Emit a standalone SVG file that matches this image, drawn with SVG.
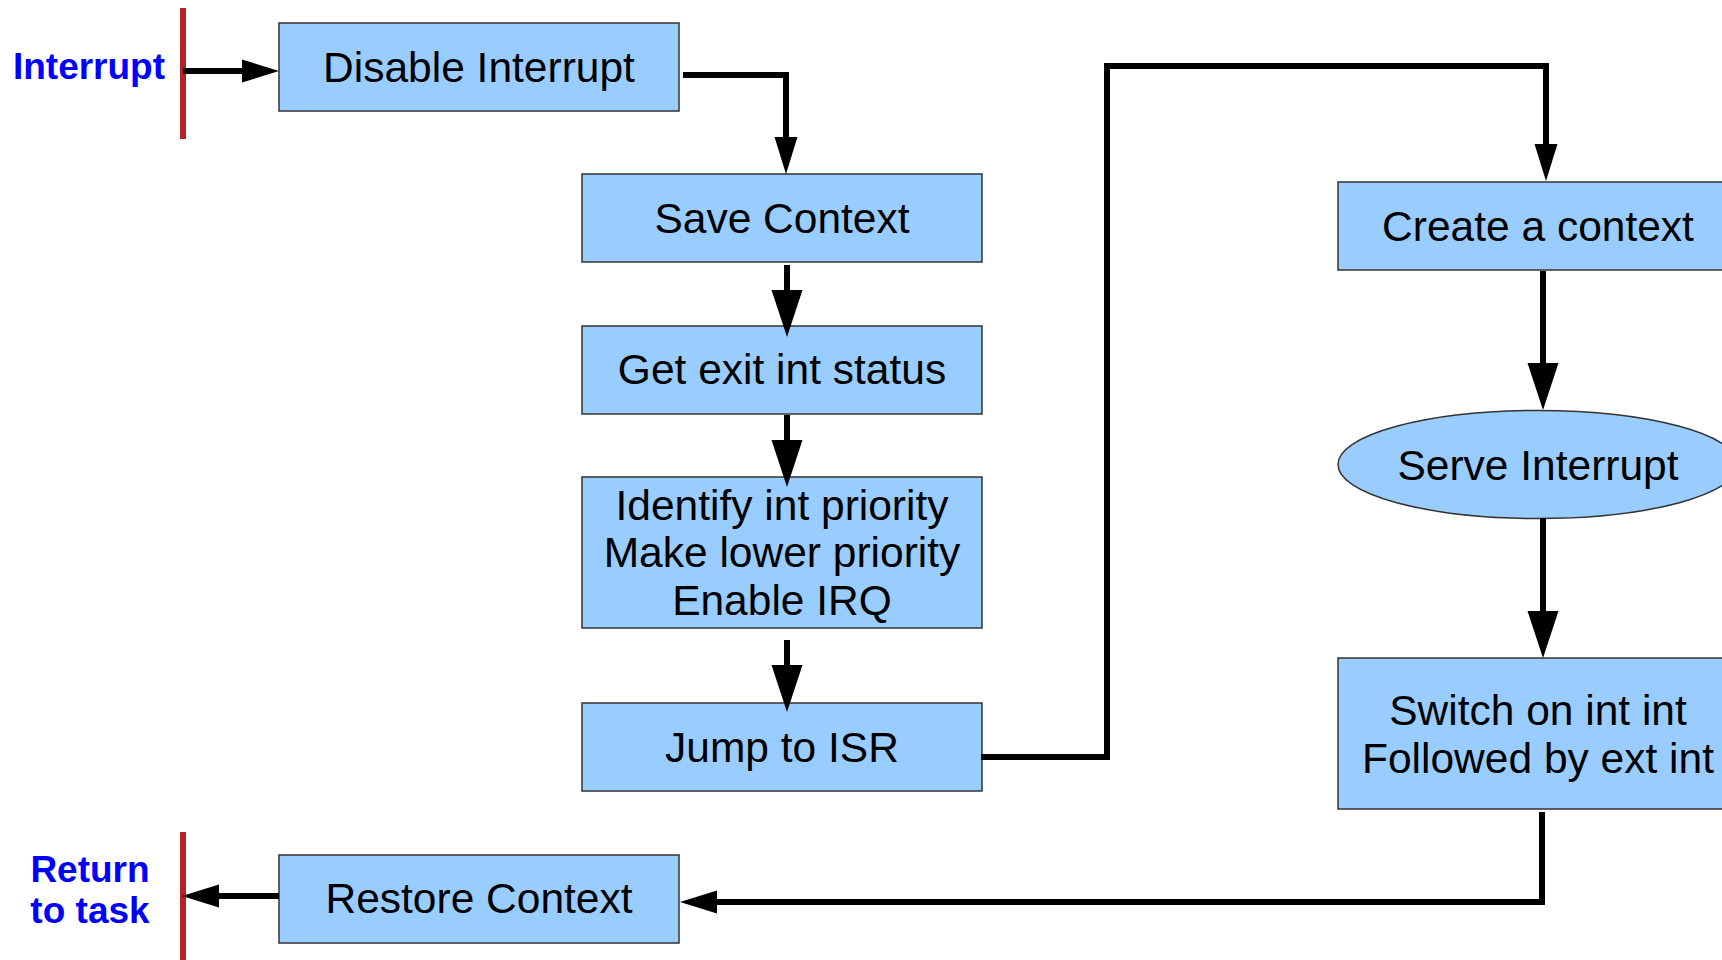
<svg xmlns="http://www.w3.org/2000/svg" width="1722" height="960" viewBox="0 0 1722 960">
<defs>
<style>
.box{fill:#99CCFF;stroke:#333333;stroke-width:1.5}
.t{font-family:"Liberation Sans",Arial,sans-serif;font-size:42.5px;fill:#000;text-anchor:middle}
.lbl{font-family:"Liberation Sans",Arial,sans-serif;font-size:37px;font-weight:bold;fill:#0000FF;text-anchor:middle}
.bar{stroke:#B22228;stroke-width:6;fill:none}
.c{stroke:#000;stroke-width:6;fill:none;stroke-linejoin:miter}
.big{marker-end:url(#ab)}
.small{marker-end:url(#as)}
</style>
<marker id="ab" markerUnits="userSpaceOnUse" markerWidth="48" markerHeight="32" refX="0" refY="15.5" orient="auto" overflow="visible">
<path d="M0,0 L47,15.5 L0,31 Z" fill="#000"/>
</marker>
<marker id="as" markerUnits="userSpaceOnUse" markerWidth="38" markerHeight="24" refX="0" refY="11.5" orient="auto" overflow="visible">
<path d="M0,0 L37,11.5 L0,23 Z" fill="#000"/>
</marker>
</defs>
<rect x="0" y="0" width="1722" height="960" fill="#fff"/>

<g id="start">
<line class="bar" x1="183" y1="8" x2="183" y2="139"/>
<text class="lbl" x="89" y="79">Interrupt</text>
</g>
<g id="end">
<line class="bar" x1="183" y1="832" x2="183" y2="960"/>
<text class="lbl" x="90" y="882">Return</text>
<text class="lbl" x="90" y="923">to task</text>
</g>

<g id="disable">
<rect class="box" x="279" y="23" width="400" height="88"/>
<text class="t" x="479" y="82">Disable Interrupt</text>
</g>
<g id="save">
<rect class="box" x="582" y="174" width="400" height="88"/>
<text class="t" x="782" y="233">Save Context</text>
</g>
<g id="getexit">
<rect class="box" x="582" y="326" width="400" height="88"/>
<text class="t" x="782" y="384">Get exit int status</text>
</g>
<g id="identify">
<rect class="box" x="582" y="477" width="400" height="151"/>
<text class="t" x="782" y="520">Identify int priority</text>
<text class="t" x="782" y="567">Make lower priority</text>
<text class="t" x="782" y="615">Enable IRQ</text>
</g>
<g id="jump">
<rect class="box" x="582" y="703" width="400" height="88"/>
<text class="t" x="782" y="762">Jump to ISR</text>
</g>
<g id="create">
<rect class="box" x="1338" y="182" width="400" height="88"/>
<text class="t" x="1538" y="241">Create a context</text>
</g>
<g id="serve">
<ellipse class="box" cx="1538" cy="464.5" rx="200" ry="54"/>
<text class="t" x="1538" y="480">Serve Interrupt</text>
</g>
<g id="switch">
<rect class="box" x="1338" y="658" width="400" height="151"/>
<text class="t" x="1538" y="725">Switch on int int</text>
<text class="t" x="1538" y="773">Followed by ext int</text>
</g>
<g id="restore">
<rect class="box" x="279" y="855" width="400" height="88"/>
<text class="t" x="479" y="913">Restore Context</text>
</g>

<g id="connectors">
<path class="c small" d="M183,71 H242"/>
<path class="c small" d="M683,75 H786 V137"/>
<path class="c big" d="M787,265 V290"/>
<path class="c big" d="M787,415 V440"/>
<path class="c big" d="M787,640 V665"/>
<path class="c small" d="M981,757 H1107 V66 H1546 V144"/>
<path class="c big" d="M1543,271 V363"/>
<path class="c big" d="M1543,518 V611"/>
<path class="c small" d="M1542,812 V902 H717"/>
<path class="c small" d="M279,896 H219"/>
</g>
</svg>
